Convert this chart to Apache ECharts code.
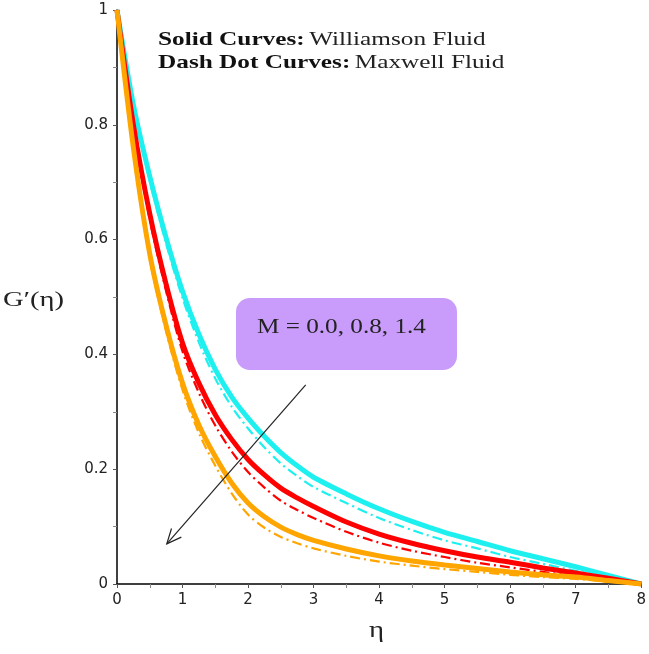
<!DOCTYPE html>
<html>
<head>
<meta charset="utf-8">
<script src="https://cdn.jsdelivr.net/npm/echarts@6/dist/echarts.min.js"></script>
<style>
html,body{margin:0;padding:0;background:#fff;}
#c{width:649px;height:654px;}
</style>
</head>
<body>
<div id="c"></div>
<script>
// eta grid
const eta = [0, 0.25, 0.5, 0.75, 1, 1.25, 1.5, 1.75, 2, 2.25, 2.5, 2.75, 3, 3.5, 4, 4.5, 5, 5.5, 6, 6.5, 7, 7.5, 8];
// Williamson fluid (solid curves)
const wM00 = [1, 0.835, 0.71, 0.603, 0.51, 0.435, 0.374, 0.326, 0.289, 0.257, 0.229, 0.206, 0.186, 0.157, 0.131, 0.109, 0.090, 0.074, 0.058, 0.044, 0.030, 0.015, 0];
const wM08 = [1, 0.80, 0.645, 0.522, 0.42, 0.35, 0.295, 0.252, 0.217, 0.19, 0.167, 0.15, 0.135, 0.108, 0.087, 0.071, 0.058, 0.047, 0.038, 0.028, 0.019, 0.010, 0];
const wM14 = [1, 0.76, 0.575, 0.45, 0.35, 0.277, 0.222, 0.176, 0.141, 0.117, 0.099, 0.086, 0.076, 0.061, 0.049, 0.040, 0.033, 0.027, 0.021, 0.016, 0.012, 0.006, 0];
// Maxwell fluid (dash dot curves)
const mM00 = [1, 0.83, 0.702, 0.593, 0.498, 0.421, 0.358, 0.309, 0.271, 0.238, 0.21, 0.188, 0.169, 0.141, 0.115, 0.094, 0.076, 0.062, 0.047, 0.035, 0.023, 0.011, 0];
const mM08 = [1, 0.795, 0.635, 0.51, 0.405, 0.333, 0.276, 0.231, 0.195, 0.168, 0.145, 0.129, 0.115, 0.091, 0.072, 0.058, 0.047, 0.037, 0.029, 0.021, 0.014, 0.007, 0];
const mM14 = [1, 0.755, 0.567, 0.44, 0.338, 0.263, 0.206, 0.158, 0.121, 0.098, 0.082, 0.071, 0.062, 0.049, 0.039, 0.032, 0.026, 0.021, 0.016, 0.012, 0.009, 0.004, 0];

const xTicks = [0, 1, 2, 3, 4, 5, 6, 7, 8];
const yTicks = [0, 0.2, 0.4, 0.6, 0.8, 1];

const colors = {c: '#1ef0f0', r: '#ff0000', o: '#ffa500'};

function pts(ys){ return eta.map((e,i)=>[e, ys[i]]); }
function solid(name, ys, col){
  return {name, type:'line', data:pts(ys), showSymbol:false, smooth:0.3,
    lineStyle:{color:col, width:5}, z:3};
}
function dash(name, ys, col){
  return {name, type:'line', data:pts(ys), showSymbol:false, smooth:0.3,
    lineStyle:{color:col, width:2.2, type:[10,4,2,4]}, z:2};
}

const chart = echarts.init(document.getElementById('c'), null, {renderer:'canvas'});
const axisLabelStyle = {color:'#222', fontFamily:'DejaVu Sans', fontSize:15};
chart.setOption({
  animation:false,
  backgroundColor:'#fff',
  grid:{left:117, top:10, right:7, bottom:70, containLabel:false},
  xAxis:{type:'value', min:0, max:8, interval:1,
    axisLine:{show:true, onZero:false, lineStyle:{color:'#000', width:1.5}},
    axisTick:{show:true, length:4, lineStyle:{color:'#555'}},
    minorTick:{show:true, splitNumber:2, length:4, lineStyle:{color:'#888'}},
    splitLine:{show:false},
    axisLabel:Object.assign({margin:9, formatter:v=>xTicks.includes(v)?String(v):''}, axisLabelStyle)
  },
  yAxis:{type:'value', min:0, max:1, interval:0.2,
    axisLine:{show:true, onZero:false, lineStyle:{color:'#000', width:1.5}},
    axisTick:{show:true, length:4, lineStyle:{color:'#555'}},
    minorTick:{show:true, splitNumber:2, length:4, lineStyle:{color:'#888'}},
    splitLine:{show:false},
    axisLabel:Object.assign({margin:9, formatter:v=>{const t=yTicks.find(y=>Math.abs(y-v)<1e-9); return t===undefined?'':String(t);}}, axisLabelStyle)
  },
  series:[
    dash('Maxwell M=0.0', mM00, colors.c),
    dash('Maxwell M=0.8', mM08, colors.r),
    dash('Maxwell M=1.4', mM14, colors.o),
    solid('Williamson M=0.0', wM00, colors.c),
    solid('Williamson M=0.8', wM08, colors.r),
    solid('Williamson M=1.4', wM14, colors.o)
  ]
});

// annotation arrow (data coordinates)
const aStart = chart.convertToPixel({gridIndex:0}, [2.88, 0.347]);
const aEnd = chart.convertToPixel({gridIndex:0}, [0.76, 0.07]);
const ang = Math.atan2(aEnd[1]-aStart[1], aEnd[0]-aStart[0]);
const hl = 16, ha = 0.42;
const h1 = [aEnd[0]-hl*Math.cos(ang-ha), aEnd[1]-hl*Math.sin(ang-ha)];
const h2 = [aEnd[0]-hl*Math.cos(ang+ha), aEnd[1]-hl*Math.sin(ang+ha)];

const rich = {b:{fontWeight:'bold', fontFamily:'Liberation Serif', fontSize:19, fill:'#111'}, n:{fontFamily:'Liberation Serif', fontSize:19, fill:'#222'}};
chart.setOption({
  graphic:[
    {type:'text', x:158, y:31, scaleX:1.33, style:{rich, text:'{b|Solid Curves:} {n|Williamson Fluid}', verticalAlign:'top'}},
    {type:'text', x:158, y:54, scaleX:1.33, style:{rich, text:'{b|Dash Dot Curves:} {n|Maxwell Fluid}', verticalAlign:'top'}},
    {type:'rect', shape:{x:236, y:298, width:221, height:72, r:14}, style:{fill:'#c99cfb'}, z:10},
    {type:'text', x:257, y:317, scaleX:1.2, z:11, style:{text:'M = 0.0, 0.8, 1.4', fontFamily:'Liberation Serif', fontSize:21, fill:'#222', verticalAlign:'top'}},
    {type:'line', shape:{x1:aStart[0], y1:aStart[1], x2:aEnd[0], y2:aEnd[1]}, style:{stroke:'#222', lineWidth:1.2}, z:20},
    {type:'polyline', shape:{points:[h1, aEnd, h2]}, style:{stroke:'#222', lineWidth:1.2, fill:null}, z:20},
    {type:'text', x:3, y:289, scaleX:1.3, style:{text:'G\u2032(\u03b7)', fontFamily:'Liberation Serif', fontSize:22, fill:'#222', verticalAlign:'top'}},
    {type:'text', x:369, y:619, scaleX:1.2, style:{text:'\u03b7', fontFamily:'Liberation Serif', fontSize:24, fill:'#222', verticalAlign:'top'}}
  ]
});
</script>
</body>
</html>
